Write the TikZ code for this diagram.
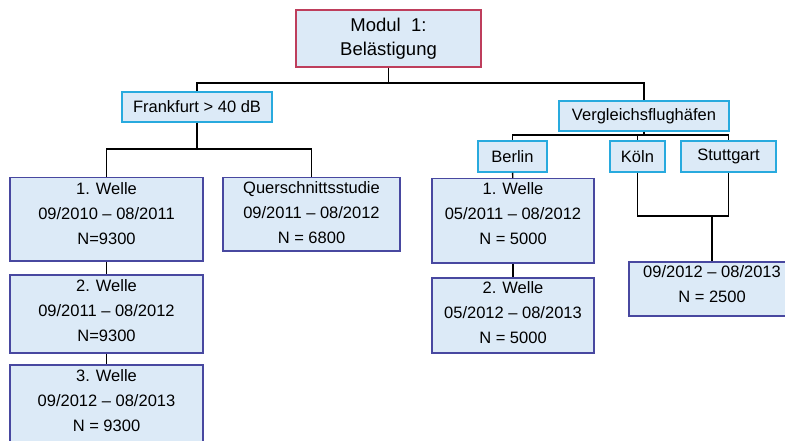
\documentclass[tikz,border=0pt]{standalone}
\usepackage{fontspec}
\setmainfont{Liberation Sans}
\usetikzlibrary{positioning}

\definecolor{boxfill}{RGB}{220,234,247}
\definecolor{modulrand}{RGB}{190,62,92}
\definecolor{ortrand}{RGB}{40,170,222}
\definecolor{wellerand}{RGB}{72,72,160}

\tikzset{
  kasten/.style={fill=boxfill, line width=1.5pt, inner sep=0pt, align=center,
    font=\fontsize{16.5}{25}\selectfont},
  modulbox/.style={kasten, draw=modulrand, font=\fontsize{18.5}{24}\selectfont},
  ortbox/.style={kasten, draw=ortrand},
  % #1 = Hoehe des Kastens, #2 = Abstand Oberkante bis letzte Grundlinie
  wellebox/.style 2 args={kasten, draw=wellerand, anchor=north, text height=#2,
    text depth={#1-#2}},
  linie/.style={line width=1.3pt, black}
}

\begin{document}
\begin{tikzpicture}[x=1pt,y=-1pt]
\useasboundingbox (0,0) rectangle (785,441);

% oberste Ebene
\node[modulbox, minimum width=185, minimum height=57] (modul) at (388.5,38.5) {Modul\ \ 1:\\Belästigung};

% Frankfurt
\node[ortbox, minimum width=150, minimum height=30] (frankfurt) at (197,107) {Frankfurt > 40 dB};
\node[wellebox={83pt}{66.5pt}, minimum width=193] (welleA) at (106.5,177) {1. Welle\\09/2010 -- 08/2011\\N=9300};
\node[wellebox={78pt}{66.5pt}, minimum width=193] (welleB) at (106.5,274) {2. Welle\\09/2011 -- 08/2012\\N=9300};
\node[wellebox={86pt}{66.5pt}, minimum width=193] (welleC) at (106.5,364) {3. Welle\\09/2012 -- 08/2013\\N = 9300};
\node[wellebox={73pt}{66pt}, minimum width=177] (quer) at (311.5,177) {Querschnittsstudie\\09/2011 -- 08/2012\\N = 6800};

% Vergleichsflughaefen
\node[ortbox, minimum width=170, minimum height=30] (verg) at (644,116) {Vergleichsflughäfen};
\node[ortbox, minimum width=69, minimum height=31] (berlin) at (512.5,156.5) {Berlin};
\node[ortbox, minimum width=55, minimum height=31] (koeln) at (637.5,156.5) {Köln};
\node[ortbox, minimum width=95, minimum height=31] (stutt) at (728.5,156.5) {Stuttgart};
\node[wellebox={84pt}{65.5pt}, minimum width=162] (berlinA) at (513,178) {1. Welle\\05/2011 -- 08/2012\\N = 5000};
\node[wellebox={75pt}{66pt}, minimum width=162] (berlinB) at (513,277) {2. Welle\\05/2012 -- 08/2013\\N = 5000};
\node[wellebox={54pt}{41pt}, minimum width=166] (ks) at (712,261) {09/2012 -- 08/2013\\N = 2500};

% Verbindungen
\coordinate (m1) at (388.5,83);
\coordinate (f1) at (197,149);
\coordinate (v1) at (644,135);
\coordinate (k1) at (712,216);
\draw[linie] (modul.south) -- (m1);
\draw[linie] (frankfurt.north) -- (frankfurt.north |- m1) -- (verg.north |- m1) -- (verg.north);
\draw[linie] (frankfurt.south) -- (f1);
\draw[linie] (welleA.north) -- (welleA.north |- f1) -- (quer.north |- f1) -- (quer.north);
\draw[linie] (welleA) -- (welleB);
\draw[linie] (welleB) -- (welleC);
\draw[linie] (verg.south) -- (v1);
\draw[linie] (berlin.north) -- (berlin.north |- v1) -- (stutt.north |- v1) -- (stutt.north);
\draw[linie] (koeln.north) -- (koeln.north |- v1);
\draw[linie] (berlin) -- (berlinA);
\draw[linie] (berlinA) -- (berlinB);
\draw[linie] (koeln.south) -- (koeln.south |- k1) -- (stutt.south |- k1) -- (stutt.south);
\draw[linie] (k1) -- (ks.north);
\end{tikzpicture}
\end{document}
